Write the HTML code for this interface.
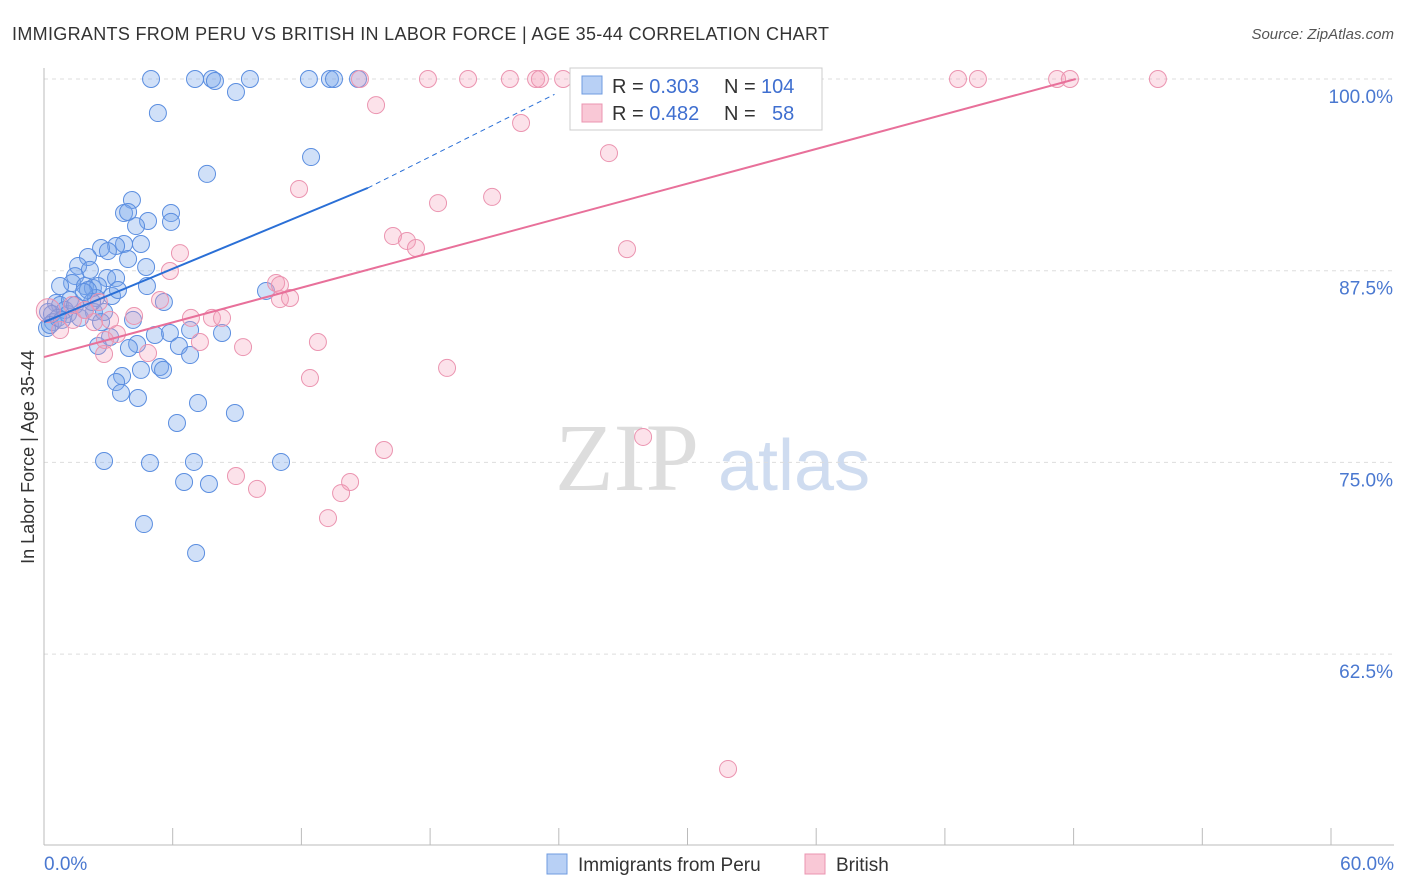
<!DOCTYPE html>
<html><head><meta charset="utf-8">
<style>
body{margin:0;background:#fff;font-family:"Liberation Sans",sans-serif;}
#wrap{position:relative;width:1406px;height:892px;overflow:hidden;}
</style></head>
<body>
<div id="wrap">
<svg id="svg" width="1406" height="892" xmlns="http://www.w3.org/2000/svg">
<text x="12" y="40" font-size="18" fill="#333" textLength="817" lengthAdjust="spacing">IMMIGRANTS FROM PERU VS BRITISH IN LABOR FORCE | AGE 35-44 CORRELATION CHART</text>
<text x="1394" y="39" font-size="15" fill="#555" text-anchor="end" font-style="italic">Source: ZipAtlas.com</text>
<text x="34" y="457" font-size="18" fill="#333" transform="rotate(-90 34 457)" text-anchor="middle">In Labor Force | Age 35-44</text>
<text x="555" y="490" font-size="96" fill="#ddd" font-family="Liberation Serif,serif">ZIP</text>
<text x="718" y="490" font-size="72" fill="#cfdcf0">atlas</text>
<g id="grid"></g><g id="pts"></g><g id="lines"></g>
<g>
<rect x="570" y="68" width="252" height="62" fill="#fff" stroke="#ccc"/>
<rect x="582" y="76" width="20" height="18" fill="#b8d0f5" stroke="#6f9be0"/>
<rect x="582" y="104" width="20" height="18" fill="#f9c8d6" stroke="#eb94b0"/>
<text x="612" y="93" font-size="20" fill="#333">R = <tspan fill="#3f6fd0">0.303</tspan></text>
<text x="724" y="93" font-size="20" fill="#333">N =</text>
<text x="761" y="93" font-size="20" fill="#3f6fd0">104</text>
<text x="612" y="120" font-size="20" fill="#333">R = <tspan fill="#3f6fd0">0.482</tspan></text>
<text x="724" y="120" font-size="20" fill="#333">N =</text>
<text x="772" y="120" font-size="20" fill="#3f6fd0">58</text>
</g>
<g>
<rect x="547" y="854" width="20" height="20" fill="#b8d0f5" stroke="#6f9be0"/>
<text x="578" y="871" font-size="19" fill="#333">Immigrants from Peru</text>
<rect x="805" y="854" width="20" height="20" fill="#f9c8d6" stroke="#eb94b0"/>
<text x="836" y="871" font-size="19" fill="#333">British</text>
</g>
<text x="44" y="870" font-size="19" fill="#4a78d0">0.0%</text>
<text x="1394" y="870" font-size="19" fill="#4a78d0" text-anchor="end">60.0%</text>
</svg>
</div>
<script>
const yTicks=[100,87.5,75,62.5];
const yTickLabels=["100.0%","87.5%","75.0%","62.5%"];
const xTicks=[0,6,12,18,24,30,36,42,48,54,60];
const bluePx=[[151,79],[195,79],[212,79],[215,81],[250,79],[309,79],[330,79],[334,79],[358,79],[236,92],[158,113],[311,157],[207,174],[132,200],[124,213],[128,212],[171,213],[171,222],[148,221],[136,226],[141,244],[124,244],[116,246],[101,248],[108,251],[128,259],[88,257],[146,267],[78,266],[90,270],[75,276],[107,278],[116,278],[72,283],[60,286],[85,286],[93,288],[98,286],[147,286],[266,291],[112,296],[96,298],[164,302],[56,303],[60,305],[48,312],[52,314],[68,314],[80,318],[94,312],[104,312],[133,320],[53,322],[47,328],[101,322],[190,330],[170,333],[155,335],[222,333],[110,337],[137,344],[98,346],[179,346],[129,348],[190,355],[160,367],[163,370],[141,370],[122,376],[116,382],[121,393],[138,398],[235,413],[198,403],[177,423],[104,461],[150,463],[194,462],[281,462],[184,482],[209,484],[144,524],[196,553],[70,300],[65,310],[75,305],[85,310],[50,325],[58,318],[62,320],[88,290],[92,302],[118,290],[84,292]];
const pinkPx=[[360,79],[428,79],[468,79],[510,79],[536,79],[540,79],[563,79],[600,79],[958,79],[978,79],[1057,79],[1070,79],[1158,79],[376,105],[521,123],[609,153],[299,189],[438,203],[492,197],[393,236],[407,241],[416,248],[627,249],[180,253],[170,271],[276,283],[280,299],[160,300],[99,302],[72,305],[212,318],[191,318],[134,316],[222,318],[94,322],[117,334],[200,342],[243,347],[318,342],[148,353],[104,354],[310,378],[447,368],[384,450],[643,437],[236,476],[350,482],[341,493],[257,489],[328,518],[728,769],[60,330],[73,320],[85,310],[110,320],[105,340],[290,298],[280,285]];
// data values (percent)
const blueX=bluePx.map(p=>+((p[0]-44)*60/1287).toFixed(2));
const blueY=bluePx.map(p=>+(100-(p[1]-79)*12.5/191.7).toFixed(2));
const pinkX=pinkPx.map(p=>+((p[0]-44)*60/1287).toFixed(2));
const pinkY=pinkPx.map(p=>+(100-(p[1]-79)*12.5/191.7).toFixed(2));
const blueTrend=[[0,84.15],[15.1,92.9],[23.8,99.0]];
const pinkTrend=[[0,81.87],[48.1,100]];
const X=v=>44+v*1287/60, Y=v=>79+(100-v)*191.7/12.5;
const NS="http://www.w3.org/2000/svg";
function mk(t,a,parent){const e=document.createElementNS(NS,t);for(const k in a)e.setAttribute(k,a[k]);document.getElementById(parent).appendChild(e);return e;}
yTicks.forEach((v,i)=>{
 const l=mk('line',{x1:44,x2:1394,y1:Y(v),y2:Y(v),stroke:'#ddd','stroke-dasharray':'4,4'},'grid');
 
 
 const t=mk('text',{x:1393,y:Y(v)+24,'font-size':19,fill:'#4a78d0','text-anchor':'end'},'grid');t.textContent=yTickLabels[i];
 
 
});
const ax=mk('line',{x1:44,x2:44,y1:68,y2:845,stroke:'#bbb'},'grid');


const bx=mk('line',{x1:44,x2:1394,y1:845,y2:845,stroke:'#bbb'},'grid');


xTicks.forEach(v=>{const t=mk('line',{x1:X(v),x2:X(v),y1:828,y2:845,stroke:'#bbb'},'grid');
 
 });
function dots(xs,ys,fill,stroke,name){xs.forEach((x,i)=>{const c=mk('circle',{cx:X(x),cy:Y(ys[i]),r:8.5,fill:fill,stroke:stroke,'stroke-width':1},'pts');
 
 });}
dots(blueX,blueY,'rgba(120,165,235,0.35)','#5b8ee0','peru-point');
dots(pinkX,pinkY,'rgba(245,160,185,0.3)','#eb94b0','british-point');
const bb=mk('circle',{cx:X(0.2),cy:Y(84.9),r:12,fill:'rgba(245,160,185,0.3)',stroke:'#eb94b0'},'pts');


const l1=mk('line',{x1:X(blueTrend[0][0]),y1:Y(blueTrend[0][1]),x2:X(blueTrend[1][0]),y2:Y(blueTrend[1][1]),stroke:'#2a6fd6','stroke-width':2},'lines');


const l2=mk('line',{x1:X(blueTrend[1][0]),y1:Y(blueTrend[1][1]),x2:X(blueTrend[2][0]),y2:Y(blueTrend[2][1]),stroke:'#2a6fd6','stroke-width':1,'stroke-dasharray':'5,4'},'lines');


const l3=mk('line',{x1:X(pinkTrend[0][0]),y1:Y(pinkTrend[0][1]),x2:X(pinkTrend[1][0]),y2:Y(pinkTrend[1][1]),stroke:'#e8709a','stroke-width':2},'lines');


</script>
</body></html>
